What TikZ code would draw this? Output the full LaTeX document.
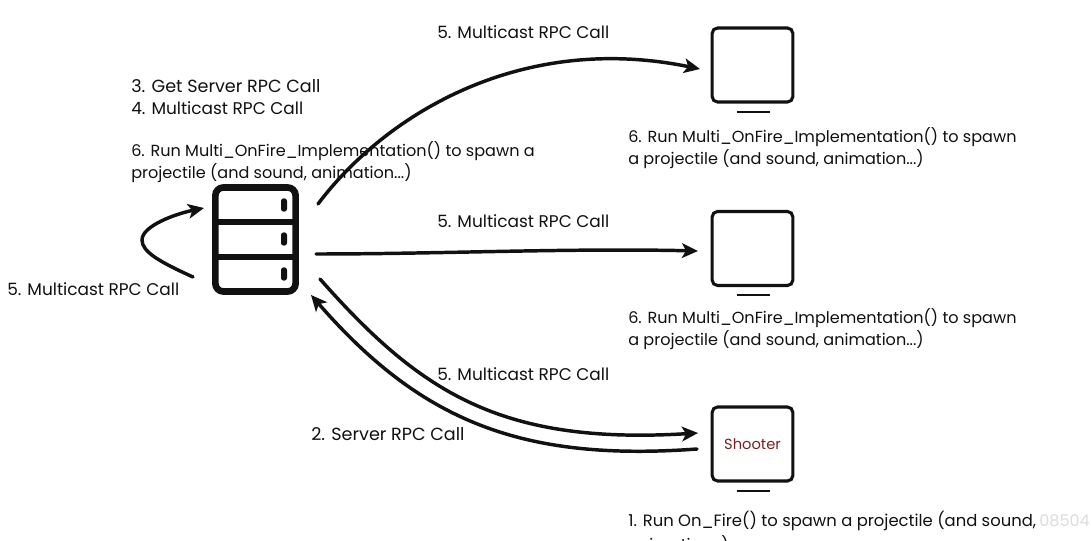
\documentclass[tikz,border=0pt]{standalone}
\usepackage{fontspec}
\setmainfont{Poppins}
\usetikzlibrary{arrows.meta}
\definecolor{ink}{HTML}{111111}
\definecolor{shooterred}{HTML}{7A1F24}
\definecolor{faint}{HTML}{DDDDDD}
\tikzset{
  x=0.75pt,y=-0.75pt,
  lbl/.style={anchor=west,inner sep=0pt,text=ink,font=\fontsize{12.05}{13}\selectfont},
  midlbl/.style={lbl,font=\fontsize{12.7}{13}\selectfont},
  widelbl/.style={lbl,font=\fontsize{13.2}{14}\selectfont},
  screen/.style={draw=ink,line width=2.3pt,rounded corners=4pt,minimum width=60.5pt,minimum height=55.5pt,inner sep=0pt,fill=white},
  standbar/.style={draw=ink,line width=2.1pt},
  serverbox/.style={draw=ink,line width=5pt,rounded corners=6pt,minimum width=60.2pt,minimum height=78pt,inner sep=0pt},
  flow/.style={draw=ink,line width=2.6pt,line cap=round},
  flowtip/.style={flow,-{Stealth[length=12pt,width=11pt,inset=3pt]}},
  led/.style={draw=none,fill=ink,rounded corners=2pt,minimum width=4.5pt,minimum height=10pt,inner sep=0pt}
}
\begin{document}
\begin{tikzpicture}
\useasboundingbox (0,0) rectangle (1091,541);
\fill[white] (0,0) rectangle (1091,541);
% monitors
\node[screen] (m1) at (752.5,65) {};
\node[screen] (m2) at (752.5,248.5) {};
\node[screen] (m3) at (752.5,444) {\fontsize{11}{12}\selectfont\textcolor{shooterred}{Shooter}};
\draw[standbar] (736.5,112) -- (769.5,112);
\draw[standbar] (736.5,295) -- (769.5,295);
\draw[standbar] (736.5,491) -- (769.5,491);
% server
\node[serverbox] (srv) at (255.5,239.5) {};
\draw[draw=ink,line width=5pt] (srv.west |- 0,222) -- (srv.east |- 0,222);
\draw[draw=ink,line width=5pt] (srv.west |- 0,257) -- (srv.east |- 0,257);
\node[led] (l1) at (284,205) {};
\node[led] (l2) at (284,239) {};
\node[led] (l3) at (284,274) {};
% free ends
\coordinate (a1) at (318,204);
\coordinate (a1e) at (700,69);
\coordinate (a2) at (316,254);
\coordinate (a2e) at (698,251);
\coordinate (a3) at (320,279);
\coordinate (a3e) at (698,433);
\coordinate (a4) at (697,449);
\coordinate (a4e) at (311,295);
\coordinate (s1) at (193,277);
\coordinate (s1e) at (204,208);
% text
\node[midlbl] (t1) at (437,32) {5. Multicast RPC Call};
\node[widelbl] (t2) at (131,86) {3. Get Server RPC Call};
\node[midlbl] (t3) at (131,108) {4. Multicast RPC Call};
\node[lbl] (t4) at (131,151) {6. Run Multi\_OnFire\_Implementation() to spawn a};
\node[lbl] (t5) at (131,173) {projectile (and sound, animation...)};
\node[lbl] (t6) at (628,137) {6. Run Multi\_OnFire\_Implementation() to spawn};
\node[lbl] (t7) at (628,159) {a projectile (and sound, animation...)};
\node[midlbl] (t8) at (437,221) {5. Multicast RPC Call};
\node[midlbl] (t9) at (7,289) {5. Multicast RPC Call};
\node[lbl] (t10) at (628,318) {6. Run Multi\_OnFire\_Implementation() to spawn};
\node[lbl] (t11) at (628,340) {a projectile (and sound, animation...)};
\node[midlbl] (t12) at (437,374) {5. Multicast RPC Call};
\node[widelbl] (t13) at (311,434) {2. Server RPC Call};
\node[lbl,font=\fontsize{12.3}{13}\selectfont] (t14) at (628,521) {1. Run On\_Fire() to spawn a projectile (and sound,};
\node[lbl] (t15) at (628,544) {animation...)};
\node[lbl,text=faint] (t16) at (1039,521) {08504};
% connectors
\draw[flowtip] (a1) .. controls (385,115) and (520,32) .. (a1e);
\draw[flowtip] (a2) .. controls (440,254) and (570,248) .. (a2e);
\draw[flowtip] (a3) .. controls (420,392) and (500,445) .. (a3e);
\draw[flowtip] (a4) .. controls (520,462) and (420,420) .. (a4e);
\draw[flowtip] (s1) .. controls (160,262) and (142,252) .. (142,240) .. controls (142,226) and (175,214) .. (s1e);
\end{tikzpicture}
\end{document}
